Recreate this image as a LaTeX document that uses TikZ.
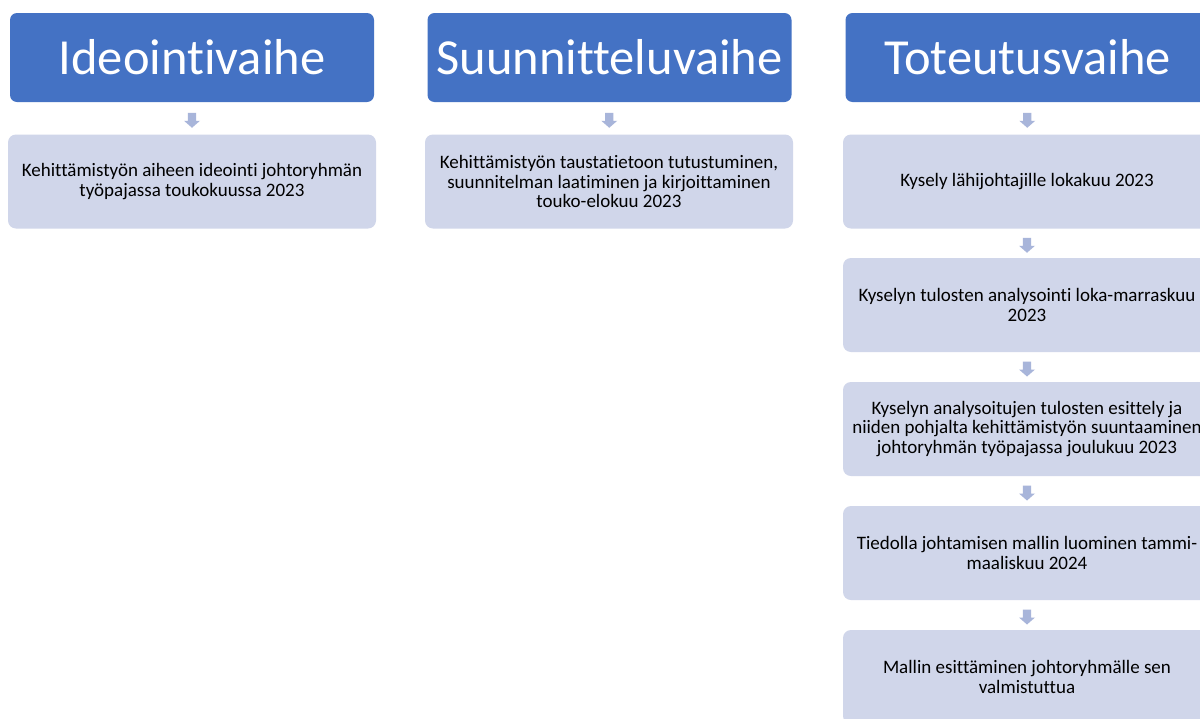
\documentclass[tikz,border=0pt]{standalone}
\usepackage{fontspec}
\setmainfont{Carlito}[RawFeature={-liga}]
\usetikzlibrary{calc}
\definecolor{phaseblue}{HTML}{4472C4}
\definecolor{stepfill}{HTML}{D0D6EA}
\definecolor{arrowfill}{HTML}{A8B5DA}

\tikzset{
  phase/.style={fill=phaseblue, rounded corners=7pt, minimum width=364pt,
    minimum height=89pt, inner sep=0pt, text=white,
    font=\fontsize{50.5}{60}\selectfont},
  stepbox/.style={fill=stepfill, rounded corners=8pt, minimum width=368pt,
    minimum height=94pt, inner sep=0pt, text=black, align=center,
    font=\fontsize{19}{19.8}\selectfont},
  downarrow/.pic={
    \fill[arrowfill] (-4.2,-5.5) -- (4.2,-5.5) -- (4.2,2.5) -- (8,2.5)
      -- (0,9.5) -- (-8,2.5) -- (-4.2,2.5) -- cycle;
  }
}

\begin{document}
\begin{tikzpicture}[x=1pt, y=-1pt]
  \useasboundingbox (0,0) rectangle (1200,718);
  \fill[white] (0,0) rectangle (1200,718);
  \clip (0,0) rectangle (1200,718);

  % phase headers
  \node[phase] (h1) at (192,57.5)    {Ideointivaihe};
  \node[phase] (h2) at (609.5,57.5)  {Suunnitteluvaihe};
  \node[phase] (h3) at (1027.5,57.5) {Toteutusvaihe};

  % steps of the first two phases
  \node[stepbox] (b1) at (192,181.5)
    {Kehittämistyön aiheen ideointi johtoryhmän\\työpajassa toukokuussa 2023};
  \node[stepbox] (b2) at (609,181.5)
    {Kehittämistyön taustatietoon tutustuminen,\\suunnitelman laatiminen ja kirjoittaminen\\touko-elokuu 2023};

  % steps of the implementation phase
  \node[stepbox] (c1) at (1027,181.5) {Kysely lähijohtajille lokakuu 2023};
  \node[stepbox] (c2) at (1027,305)
    {Kyselyn tulosten analysointi loka-marraskuu\\2023};
  \node[stepbox] (c3) at (1027,429)
    {Kyselyn analysoitujen tulosten esittely ja\\niiden pohjalta kehittämistyön suuntaaminen\\johtoryhmän työpajassa joulukuu 2023};
  \node[stepbox] (c4) at (1027,553)
    {Tiedolla johtamisen mallin luominen tammi-\\maaliskuu 2024};
  \node[stepbox] (c5) at (1027,677)
    {Mallin esittäminen johtoryhmälle sen\\valmistuttua};

  % block arrows between consecutive items
  \pic at ($(h1.south)!0.5!(b1.north)$) {downarrow};
  \pic at ($(h2.south)!0.5!(b2.north)$) {downarrow};
  \pic at ($(h3.south)!0.5!(c1.north)$) {downarrow};
  \pic at ($(c1.south)!0.5!(c2.north)$) {downarrow};
  \pic at ($(c2.south)!0.5!(c3.north)$) {downarrow};
  \pic at ($(c3.south)!0.5!(c4.north)$) {downarrow};
  \pic at ($(c4.south)!0.5!(c5.north)$) {downarrow};
\end{tikzpicture}
\end{document}
